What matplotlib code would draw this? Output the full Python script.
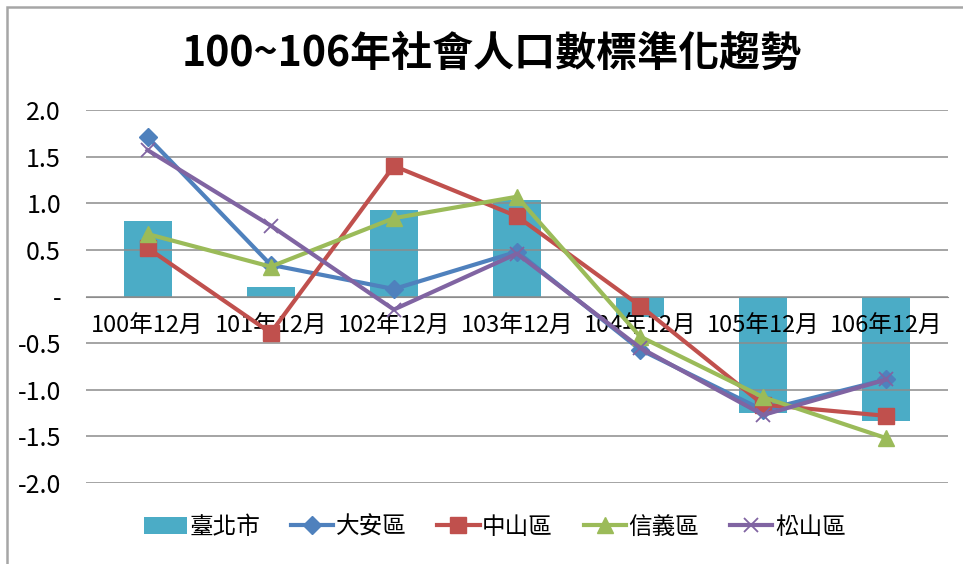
import matplotlib
matplotlib.use("Agg")
import matplotlib.pyplot as plt
from matplotlib.patches import Rectangle
import numpy as np

plt.rcParams['font.family'] = ['Noto Sans CJK TC', 'DejaVu Sans']

categories = ['100年12月', '101年12月', '102年12月', '103年12月', '104年12月', '105年12月', '106年12月']
taipei = [0.81, 0.10, 0.93, 1.04, -0.22, -1.25, -1.34]
daan = [1.71, 0.34, 0.08, 0.48, -0.57, -1.22, -0.89]
zhongshan = [0.52, -0.39, 1.40, 0.86, -0.10, -1.16, -1.28]
xinyi = [0.67, 0.32, 0.84, 1.07, -0.43, -1.08, -1.52]
songshan = [1.57, 0.76, -0.14, 0.46, -0.55, -1.27, -0.89]
yticks = [2.0, 1.5, 1.0, 0.5, 0.0, -0.5, -1.0, -1.5, -2.0]
ytick_labels = ['2.0', '1.5', '1.0', '0.5', '-', '-0.5', '-1.0', '-1.5', '-2.0']
title = '100~106年社會人口數標準化趨勢'

fig = plt.figure(figsize=(9.63, 5.64), dpi=100)
W, H = 963, 564
ax = fig.add_axes([86 / W, 1 - 483 / H, (948 - 86) / W, (483 - 110) / H])

x = np.arange(len(categories))
bar = ax.bar(x, taipei, width=0.39, color='#4BACC6', zorder=1, label='臺北市')

series = [
    (daan, '#4F81BD', 'D', 9, '大安區'),
    (zhongshan, '#C0504D', 's', 11, '中山區'),
    (xinyi, '#9BBB59', '^', 11, '信義區'),
    (songshan, '#8064A2', 'x', 10, '松山區'),
]
handles = [bar]
labels = ['臺北市']
for vals, c, m, ms, lab in series:
    kw = dict(markeredgewidth=1.3) if m == 'x' else dict(markeredgecolor=c)
    ln, = ax.plot(x, vals, color=c, lw=3.0, marker=m, markersize=ms, markerfacecolor=c,
                  zorder=3, label=lab, **kw)
    handles.append(ln)
    labels.append(lab)

ax.set_xlim(-0.5, len(categories) - 0.5)
ax.set_ylim(-2.0, 2.0)
ax.set_yticks(yticks)
ax.set_yticklabels(ytick_labels, fontsize=18)
ax.yaxis.grid(True, color='#8C8C8C', lw=1.1)
ax.set_axisbelow(False)
for gl in ax.get_ygridlines():
    gl.set_zorder(0.5)
for s in ['left', 'right', 'top']:
    ax.spines[s].set_visible(False)
ax.spines['bottom'].set_position(('data', 0))
ax.spines['bottom'].set_color('#8C8C8C')
ax.spines['bottom'].set_zorder(0.6)
ax.set_xticks(x)
ax.set_xticklabels(categories, fontsize=17)
ax.tick_params(axis='x', length=0, pad=13)
ax.tick_params(axis='y', length=0, pad=18)
for t in ax.get_yticklabels():
    t.set_fontweight('medium')

fig.text(492 / W, 1 - 54 / H, title, ha='center', va='center', fontsize=29.5, fontweight='bold')

leg = fig.legend(handles, labels, loc='center', bbox_to_anchor=(495 / W, 1 - 527 / H), ncol=5,
                 frameon=False, fontsize=17, handlelength=1.8, columnspacing=1.3,
                 handletextpad=0.1)

# outer frame (left and top edges visible)
fig.patches.append(Rectangle((6.5 / W, -0.05), 1.2, 1 - 7 / H + 0.05, transform=fig.transFigure,
                             fill=False, edgecolor='#A6A6A6', lw=1.8))

fig.savefig('out.png', dpi=100)
